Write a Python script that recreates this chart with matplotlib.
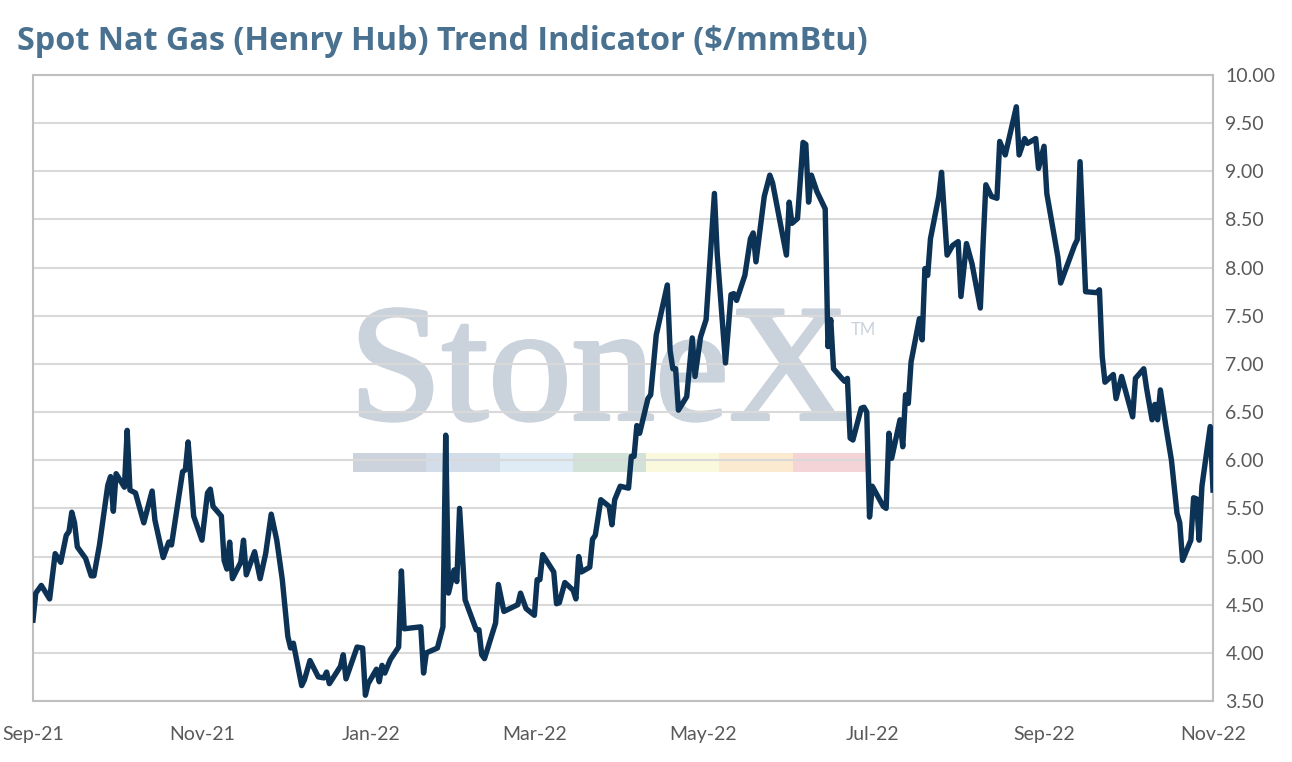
import numpy as np
import pandas as pd
import matplotlib
matplotlib.use("Agg")
import matplotlib.pyplot as plt
import matplotlib.patheffects as pe
from matplotlib.patches import Rectangle

# days since 2021-09-01 and spot price ($/mmBtu)
days = [0, 1, 3, 6, 8, 10, 12, 13, 14, 15, 16, 19, 21, 22, 24, 27, 28, 29, 30, 33,
        34, 35, 37, 40, 43, 44, 47, 49, 50, 54, 55, 56, 58, 61, 63, 64, 65, 68, 69, 70,
        71, 72, 75, 76, 77, 80, 82, 84, 86, 88, 90, 92, 93, 94, 97, 98, 99, 100, 103, 105,
        106, 107, 111, 112, 113, 117, 119, 120, 121, 124, 125, 126, 127, 129, 132, 133, 134, 140, 141, 142,
        146, 148, 149, 150, 152, 153, 154, 156, 160, 161, 162, 163, 167, 168, 170, 175, 176, 178, 181, 182,
        183, 184, 188, 189, 190, 192, 195, 196, 197, 198, 201, 202, 203, 205, 208, 209, 210, 212, 215, 216,
        217, 218, 219, 222, 223, 225, 229, 230, 231, 232, 233, 236, 238, 239, 241, 243, 246, 247, 250, 252,
        253, 254, 257, 259, 260, 261, 264, 266, 267, 272, 273, 274, 276, 278, 279, 280, 281, 283, 286, 287,
        288, 289, 292, 293, 294, 295, 296, 299, 300, 301, 302, 303, 307, 308, 309, 310, 313, 314, 315, 316,
        317, 320, 321, 322, 323, 324, 327, 328, 330, 332, 334, 335, 337, 339, 342, 343, 344, 346, 348, 349,
        351, 355, 356, 358, 359, 362, 363, 365, 366, 370, 371, 376, 377, 378, 380, 384, 385, 386, 387, 390,
        391, 393, 397, 398, 401, 402, 404, 405, 406, 407, 409, 411, 413, 414, 415, 418, 419, 420, 421, 422,
        425, 426]
price = [4.34, 4.62, 4.70, 4.56, 5.03, 4.94, 5.22, 5.26, 5.46, 5.35, 5.10, 4.98, 4.80, 4.80, 5.12, 5.74, 5.83, 5.47, 5.86, 5.72,
         6.31, 5.69, 5.66, 5.35, 5.68, 5.38, 4.99, 5.15, 5.12, 5.88, 5.90, 6.19, 5.42, 5.17, 5.66, 5.70, 5.52, 5.42, 4.96, 4.87,
         5.15, 4.77, 4.94, 5.17, 4.81, 5.05, 4.77, 5.03, 5.44, 5.17, 4.76, 4.17, 4.05, 4.10, 3.66, 3.72, 3.82, 3.92, 3.75, 3.74,
         3.80, 3.68, 3.86, 3.98, 3.73, 4.06, 4.05, 3.56, 3.68, 3.83, 3.70, 3.87, 3.79, 3.93, 4.06, 4.85, 4.25, 4.27, 3.79, 4.00,
         4.05, 4.27, 6.26, 4.62, 4.86, 4.74, 5.50, 4.55, 4.24, 4.24, 3.98, 3.94, 4.31, 4.71, 4.43, 4.50, 4.62, 4.46, 4.39, 4.76,
         4.76, 5.02, 4.84, 4.51, 4.52, 4.73, 4.65, 4.56, 5.00, 4.84, 4.89, 5.18, 5.22, 5.59, 5.52, 5.33, 5.59, 5.73, 5.71, 6.04,
         6.04, 6.36, 6.28, 6.64, 6.68, 7.30, 7.82, 7.14, 6.95, 6.95, 6.52, 6.66, 7.27, 6.87, 7.28, 7.46, 8.77, 8.15, 7.01, 7.72,
         7.73, 7.66, 7.92, 8.30, 8.36, 8.06, 8.74, 8.96, 8.88, 8.13, 8.68, 8.46, 8.51, 9.30, 9.28, 8.68, 8.96, 8.79, 8.61, 7.18,
         7.46, 6.95, 6.85, 6.82, 6.85, 6.23, 6.21, 6.54, 6.55, 6.50, 5.41, 5.73, 5.52, 5.50, 6.28, 6.02, 6.42, 6.14, 6.68, 6.59,
         7.02, 7.47, 7.25, 7.99, 7.92, 8.30, 8.74, 8.99, 8.13, 8.23, 8.27, 7.70, 8.25, 8.04, 7.58, 8.25, 8.86, 8.74, 8.72, 9.31,
         9.17, 9.67, 9.17, 9.34, 9.29, 9.34, 9.03, 9.26, 8.77, 8.11, 7.84, 8.23, 8.29, 9.10, 7.75, 7.74, 7.77, 7.08, 6.81, 6.89,
         6.64, 6.87, 6.45, 6.85, 6.95, 6.75, 6.42, 6.58, 6.42, 6.73, 6.35, 6.00, 5.45, 5.35, 4.96, 5.17, 5.61, 5.60, 5.17, 5.73,
         6.35, 5.69]

tick_dates = ["2021-09-01", "2021-11-01", "2022-01-01", "2022-03-01",
              "2022-05-01", "2022-07-01", "2022-09-01", "2022-11-01"]
tick_labels = ["Sep-21", "Nov-21", "Jan-22", "Mar-22", "May-22", "Jul-22", "Sep-22", "Nov-22"]
y_ticks = np.arange(3.5, 10.01, 0.5)

band_colors = ["#cdd3dc", "#d3dde9", "#dfebf5", "#d3e2d8", "#faf8dd", "#fbe9d0", "#f4d4d7"]

dates = pd.Timestamp("2021-09-01") + pd.to_timedelta(days, unit="D")

fig = plt.figure(figsize=(12.92, 7.62), dpi=100)
ax = fig.add_axes([33 / 1292, 1 - 701 / 762, 1180 / 1292, 626 / 762])

# watermark
wm = "#cad2dc"
ax.text(0.268, 0.450, "StoneX", transform=ax.transAxes, family="Liberation Serif",
        fontsize=120, color=wm, ha="left", va="baseline", zorder=0,
        path_effects=[pe.withStroke(linewidth=2.5, foreground=wm)])
ax.text(0.693, 0.585, "TM", transform=ax.transAxes, family="Lato",
        fontsize=12, color=wm, ha="left", va="baseline", zorder=0)
bw = 0.0621
for i, c in enumerate(band_colors):
    ax.add_patch(Rectangle((0.2712 + i * bw, 0.3658), bw, 0.0304, transform=ax.transAxes,
                           facecolor=c, edgecolor="none", zorder=0))

ax.plot(dates, price, color="#0c3356", lw=3.9, solid_joinstyle="round", zorder=3)

ax.set_xlim(pd.Timestamp("2021-09-01"), pd.Timestamp("2022-11-01"))
ax.set_ylim(3.5, 10.0)
ax.set_xticks(pd.to_datetime(tick_dates))
ax.set_xticklabels(tick_labels)
ax.set_yticks(y_ticks)
ax.set_yticklabels(["%.2f" % v for v in y_ticks])
ax.yaxis.tick_right()
ax.tick_params(axis="both", length=0, labelsize=14, labelcolor="#595959")
ax.tick_params(axis="x", pad=18)
ax.tick_params(axis="y", pad=9)
for lab in ax.get_xticklabels() + ax.get_yticklabels():
    lab.set_family("Lato")

ax.set_axisbelow(True)
ax.grid(axis="y", color="#d9d9d9", lw=1.5)
for s in ax.spines.values():
    s.set_color("#bfbfbf")
    s.set_linewidth(1.5)

fig.text(17 / 1292, 1 - 50 / 762, "Spot Nat Gas (Henry Hub) Trend Indicator ($/mmBtu)",
         family="Open Sans", weight="bold", fontsize=23.3, color="#4a7290",
         ha="left", va="baseline")

fig.savefig("out.png", dpi=100)
